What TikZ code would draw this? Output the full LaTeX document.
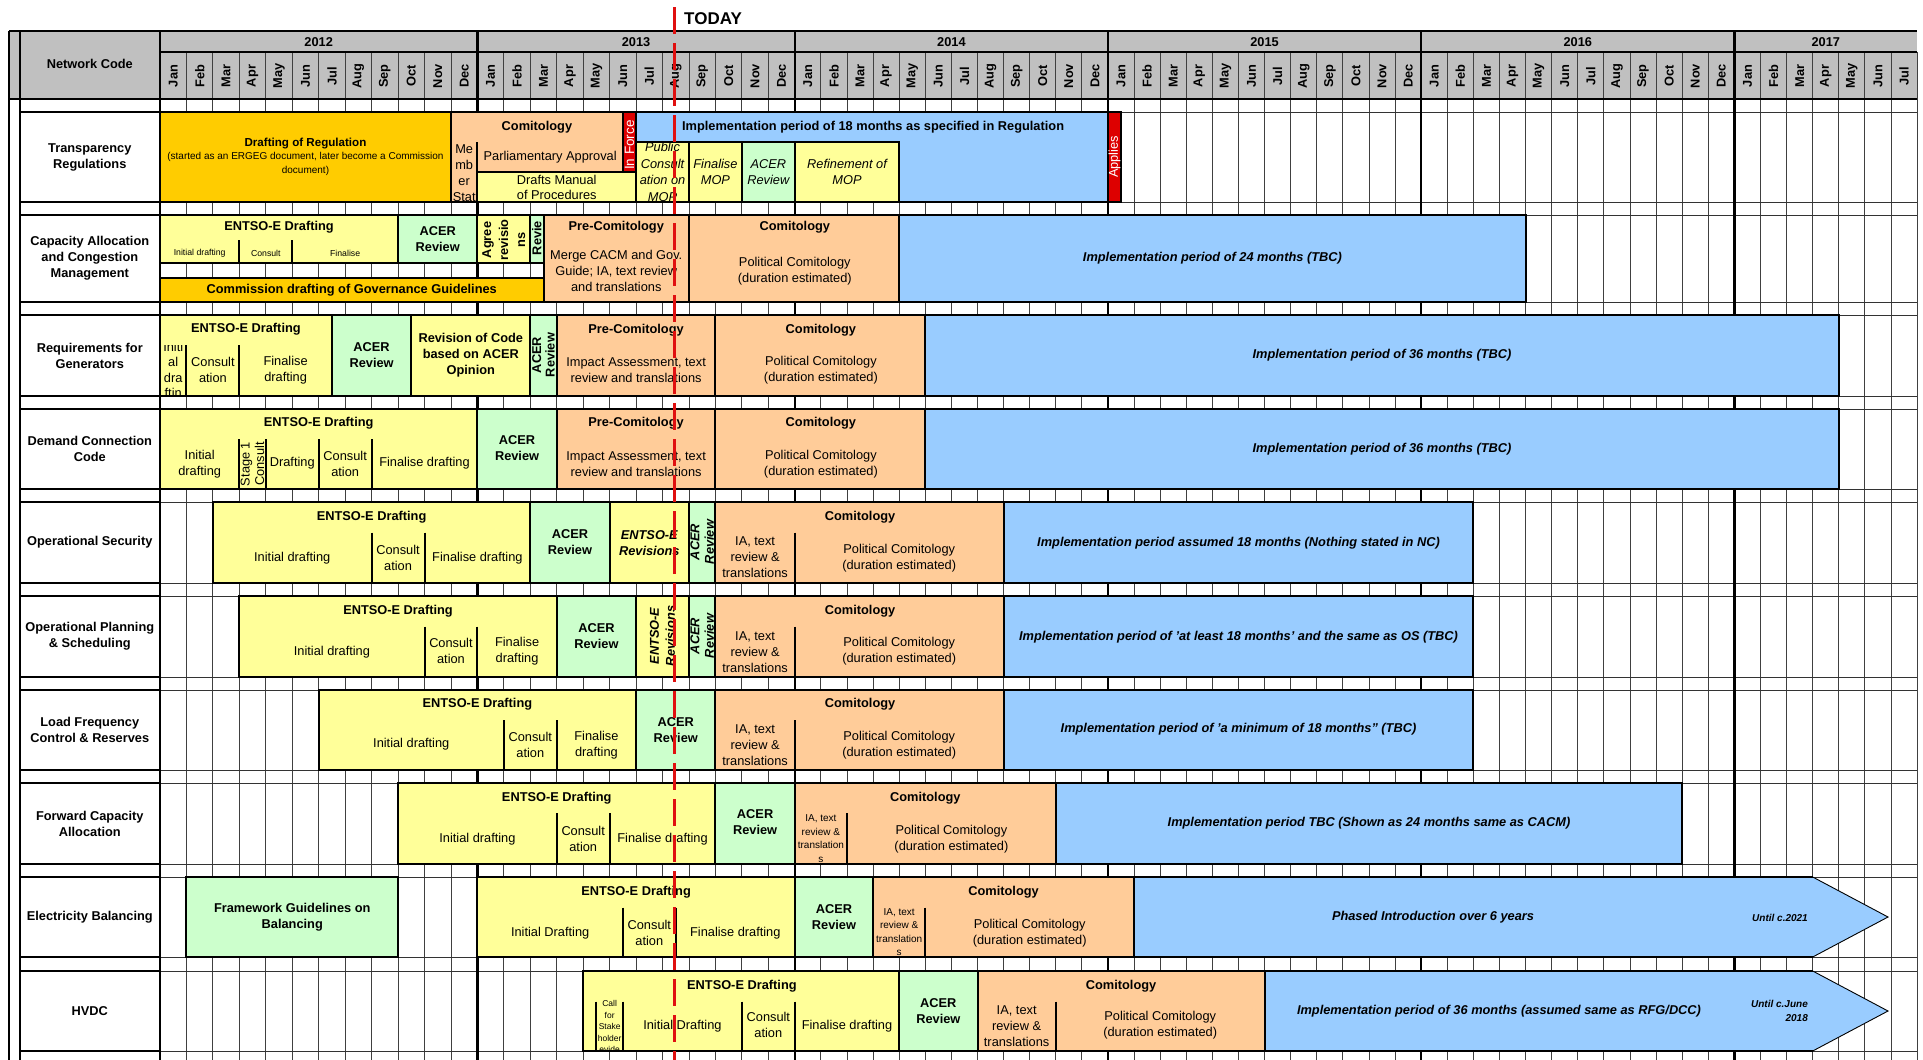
\documentclass[tikz,border=0pt]{standalone}
\usepackage{fontspec}
\setmainfont{Liberation Sans}
\usepackage{tikz}

\definecolor{cHead}{HTML}{C0C0C0}
\definecolor{cGold}{HTML}{FFCC00}
\definecolor{cPeach}{HTML}{FFCC99}
\definecolor{cYel}{HTML}{FFFF99}
\definecolor{cGrn}{HTML}{CCFFCC}
\definecolor{cBlue}{HTML}{99CCFF}
\definecolor{cRed}{HTML}{DD0000}
\definecolor{cToday}{HTML}{E01010}

\begin{document}
\begin{tikzpicture}[x=1pt,y=1pt,yscale=-1,xscale=1,
  declare function={mx(\k)=(\k<=24)*(160+26.45*\k)+(\k>24)*(794.8+26.1*(\k-24));},
  bar/.style={draw=black,line width=2pt},
  yel/.style={bar,fill=cYel},
  grn/.style={bar,fill=cGrn},
  pch/.style={bar,fill=cPeach},
  gld/.style={bar,fill=cGold},
  blu/.style={bar,fill=cBlue},
  rdb/.style={bar,fill=cRed},
  divd/.style={line width=2pt},
  mline/.style={line width=0.9pt,black!75},
  yline/.style={line width=2.4pt},
  rline/.style={line width=0.9pt,black!80},
  lbl/.style={font=\fontsize{12.8}{16}\selectfont,align=center,inner sep=0pt},
  lblb/.style={lbl,font=\fontsize{12.8}{16}\selectfont\bfseries},
  lbli/.style={lbl,font=\fontsize{12.8}{16.6}\selectfont\itshape},
  lblbi/.style={lbl,font=\fontsize{12.8}{16}\selectfont\bfseries\itshape},
  lbls/.style={lbl,font=\fontsize{8.7}{10}\selectfont},
  lblm/.style={lbl,font=\fontsize{10}{13.5}\selectfont},
  rot/.style={rotate=90},
  todayl/.style={draw=cToday,line width=3pt,dash pattern=on 27pt off 9pt},
  ]
\useasboundingbox (0,0) rectangle (1923,1060);

%Header background
\fill[cHead] (9,31) rectangle ({mx(67)},99);

%Month grid
\foreach \k in {1,...,67} \draw[mline] ({mx(\k)},52) -- ({mx(\k)},1060);
\foreach \yy in {112,202,215,302,315,396,409,489,502,583,596,677,690,770,783,864,877,957,971,1051}
  \draw[rline] (160,\yy) -- ({mx(67)},\yy);
\draw[rline] (160,263) -- ({mx(14.5)},263);
\draw[rline] (160,277.7) -- ({mx(14.5)},277.7);
%Year lines
\foreach \k in {12,24,36,48,60} \draw[yline] ({mx(\k)},31) -- ({mx(\k)},1060);

%Header lines and texts
\draw[line width=2.4pt] (9,31) -- ({mx(67)},31);
\draw[line width=1.6pt] (160,52) -- ({mx(67)},52);
\draw[line width=2.4pt] (9,99) -- ({mx(67)},99);
\foreach \yr/\ka/\kb in {2012/0/12,2013/12/24,2014/24/36,2015/36/48,2016/48/60,2017/60/67}
  \node[lblb] (yr\yr) at ({(mx(\ka)+mx(\kb))/2},42) {\yr};
\foreach \yr in {0,...,5}{
  \foreach \mn [count=\i from 0] in {Jan,Feb,Mar,Apr,May,Jun,Jul,Aug,Sep,Oct,Nov,Dec}{
    \pgfmathtruncatemacro{\kk}{12*\yr+\i}
    \ifnum\kk<67
      \node[lblb,rot] (mon\kk) at ({mx(\kk+0.5)},76) {\mn};
    \fi
  }
}

%Left column
\draw[line width=2.2pt] (9,31) -- (9,1060);
\draw[line width=2.2pt] (19.6,31) -- (19.6,1060);
\draw[line width=2.2pt] (160,31) -- (160,1060);
\draw[line width=2.2pt] (19.6,31) rectangle (160,99);
\node[lblb] (nc-head) at (89.8,64) {Network Code};
\foreach \t/\b in {112/202,215/302,315/396,409/489,502/583,596/677,690/770,783/864,877/957,971/1051}
  \draw[line width=2.2pt] (19.6,\t) rectangle (160,\b);
\node[lblb] (nc-tr) at (89.8,157) {Transparency\\Regulations};
\node[lblb] (nc-cacm) at (89.8,258.5) {Capacity Allocation\\and Congestion\\Management};
\node[lblb] (nc-rfg) at (89.8,355.5) {Requirements for\\Generators};
\node[lblb] (nc-dcc) at (89.8,449) {Demand Connection\\Code};
\node[lblb] (nc-os) at (89.8,542.5) {Operational Security};
\node[lblb] (nc-ops) at (89.8,636.5) {Operational Planning\\\& Scheduling};
\node[lblb] (nc-lfc) at (89.8,730) {Load Frequency\\Control \& Reserves};
\node[lblb] (nc-fca) at (89.8,823.5) {Forward Capacity\\Allocation};
\node[lblb] (nc-eb) at (89.8,917) {Electricity Balancing};
\node[lblb] (nc-hv) at (89.8,1011) {HVDC};

%Transparency Regulations
\draw[gld] ({mx(0)},112) rectangle ({mx(11)},202);
\node[lblb,font=\fontsize{11.6}{14}\selectfont\bfseries] (tr-draft) at ({mx(5.5)},144) {Drafting of Regulation};
\node[lblm] (tr-note) at ({mx(5.5)},164) {(started as an ERGEG document, later become a Commission\\document)};
\draw[pch] ({mx(11)},112) rectangle ({mx(17.5)},202);
\node[lblb] (tr-com) at ({mx(14.25)},127) {Comitology};
\node[lbl] (tr-parl) at ({mx(14.75)},157) {Parliamentary Approval};
\node[lbl] (tr-ms) at ({mx(11.5)},173) {Me\\mb\\er\\Stat};
\draw[rdb] ({mx(17.5)},112) rectangle ({mx(18)},172);
\node[lbl,rot,text=white,font=\fontsize{13.5}{16}\selectfont] (tr-force) at ({mx(17.75)},145) {In Force};
\draw[yel] ({mx(12)},172) rectangle ({mx(18)},202);
\node[lbl,font=\fontsize{12.8}{15}\selectfont] (tr-mop) at ({mx(15)},187.5) {Drafts Manual\\of Procedures};
\draw[divd] ({mx(12)},142) -- ({mx(12)},172);
\draw[blu] ({mx(18)},112) rectangle ({mx(36)},202);
\node[lblb] (tr-impl) at ({mx(27)},127) {Implementation period of 18 months as specified in Regulation};
\draw[rdb] ({mx(36)},112) rectangle ({mx(36.5)},202);
\node[lbl,rot,text=white] (tr-app) at ({mx(36.25)},157) {Applies};
\draw[yel] ({mx(18)},142) rectangle ({mx(20)},202);
\node[lbli] (tr-pub) at ({mx(19)},172) {Public\\Consult\\ation on\\MOP};
\draw[yel] ({mx(20)},142) rectangle ({mx(22)},202);
\node[lbli] (tr-fin) at ({mx(21)},172) {Finalise\\MOP};
\draw[grn] ({mx(22)},142) rectangle ({mx(24)},202);
\node[lbli] (tr-acer) at ({mx(23)},172) {ACER\\Review};
\draw[yel] ({mx(24)},142) rectangle ({mx(28)},202);
\node[lbli] (tr-ref) at ({mx(26)},172) {Refinement of\\MOP};

%Capacity Allocation and Congestion Management
\draw[yel] ({mx(0)},215) rectangle ({mx(9)},263);
\node[lblb] (ca-ent) at ({mx(4.5)},227) {ENTSO-E Drafting};
\draw[divd] ({mx(3)},240) -- ({mx(3)},263);
\draw[divd] ({mx(5)},240) -- ({mx(5)},263);
\node[lbls] (ca-init) at ({mx(1.5)},253) {Initial drafting};
\node[lbls] (ca-cons) at ({mx(4)},253) {Consult};
\node[lbls] (ca-fin) at ({mx(7)},253) {Finalise};
\draw[grn] ({mx(9)},215) rectangle ({mx(12)},263);
\node[lblb] (ca-acer) at ({mx(10.5)},239) {ACER\\Review};
\draw[yel] ({mx(12)},215) rectangle ({mx(14)},263);
\node[lblb,rot,font=\fontsize{12.8}{17}\selectfont\bfseries] (ca-agree) at ({mx(13)},240) {Agree\\revisio\\ns};
\draw[grn] ({mx(14)},215) rectangle ({mx(14.5)},263);
\node[lblb,rot] (ca-rev) at ({mx(14.25)},238) {Revie};
\draw[gld] ({mx(0)},277.7) rectangle ({mx(14.5)},302);
\node[lblb] (ca-gov) at ({mx(7.25)},290) {Commission drafting of Governance Guidelines};
\draw[pch] ({mx(14.5)},215) rectangle ({mx(20)},302);
\node[lblb] (ca-pre) at ({mx(17.25)},227) {Pre-Comitology};
\node[lbl] (ca-merge) at ({mx(17.25)},270.7) {Merge CACM and Gov.\\Guide; IA, text review\\and translations};
\draw[pch] ({mx(20)},215) rectangle ({mx(28)},302);
\node[lblb] (ca-com) at ({mx(24)},227) {Comitology};
\node[lbl] (ca-pol) at ({mx(24)},270.7) {Political Comitology\\(duration estimated)};
\draw[blu] ({mx(28)},215) rectangle ({mx(52)},302);
\node[lblbi] (ca-impl) at ({mx(40)},258.5) {Implementation period of 24 months (TBC)};

%Requirements for Generators
\draw[yel] ({mx(0)},315) rectangle ({mx(6.5)},396);
\node[lblb] (rg-ent) at ({mx(3.25)},329.3) {ENTSO-E Drafting};
\draw[divd] ({mx(1)},345) -- ({mx(1)},396);
\draw[divd] ({mx(3)},345) -- ({mx(3)},396);
\begin{scope}
\clip ({mx(0)},345) rectangle ({mx(1)},395);
\node[lbl,font=\fontsize{12.8}{15.5}\selectfont] (rg-init) at ({mx(0.5)},370) {Initi\\al\\dra\\ftin};
\end{scope}
\node[lbl] (rg-cons) at ({mx(2)},370) {Consult\\ation};
\node[lbl] (rg-fin) at ({mx(4.75)},370) {Finalise\\drafting};
\draw[grn] ({mx(6.5)},315) rectangle ({mx(9.5)},396);
\node[lblb] (rg-acer) at ({mx(8)},355.5) {ACER\\Review};
\draw[yel] ({mx(9.5)},315) rectangle ({mx(14)},396);
\node[lblb] (rg-revc) at ({mx(11.75)},355.5) {Revision of Code\\based on ACER\\Opinion};
\draw[grn] ({mx(14)},315) rectangle ({mx(15)},396);
\node[lblb,rot,font=\fontsize{12.8}{13.5}\selectfont\bfseries] (rg-acer2) at ({mx(14.5)},355) {ACER\\Review};
\draw[pch] ({mx(15)},315) rectangle ({mx(21)},396);
\node[lblb] (rg-pre) at ({mx(18)},330) {Pre-Comitology};
\node[lbl] (rg-ia) at ({mx(18)},370) {Impact Assessment, text\\review and translations};
\draw[pch] ({mx(21)},315) rectangle ({mx(29)},396);
\node[lblb] (rg-com) at ({mx(25)},330) {Comitology};
\node[lbl] (rg-pol) at ({mx(25)},370) {Political Comitology\\(duration estimated)};
\draw[blu] ({mx(29)},315) rectangle ({mx(64)},396);
\node[lblbi] (rg-impl) at ({mx(46.5)},355.5) {Implementation period of 36 months (TBC)};

%Demand Connection Code
\draw[yel] ({mx(0)},409) rectangle ({mx(12)},489);
\node[lblb] (dc-ent) at ({mx(6)},423) {ENTSO-E Drafting};
\foreach \k in {3,4,6,8} \draw[divd] ({mx(\k)},439) -- ({mx(\k)},489);
\node[lbl] (dc-init) at ({mx(1.5)},464) {Initial\\drafting};
\node[lbl,rot,font=\fontsize{12.8}{14.5}\selectfont] (dc-st) at ({mx(3.5)},464) {Stage 1\\Consult};
\node[lbl] (dc-dr) at ({mx(5)},463) {Drafting};
\node[lbl] (dc-cons) at ({mx(7)},464) {Consult\\ation};
\node[lbl] (dc-fin) at ({mx(10)},463) {Finalise drafting};
\draw[grn] ({mx(12)},409) rectangle ({mx(15)},489);
\node[lblb] (dc-acer) at ({mx(13.5)},448) {ACER\\Review};
\draw[pch] ({mx(15)},409) rectangle ({mx(21)},489);
\node[lblb] (dc-pre) at ({mx(18)},423) {Pre-Comitology};
\node[lbl] (dc-ia) at ({mx(18)},464) {Impact Assessment, text\\review and translations};
\draw[pch] ({mx(21)},409) rectangle ({mx(29)},489);
\node[lblb] (dc-com) at ({mx(25)},423) {Comitology};
\node[lbl] (dc-pol) at ({mx(25)},464) {Political Comitology\\(duration estimated)};
\draw[blu] ({mx(29)},409) rectangle ({mx(64)},489);
\node[lblbi] (dc-impl) at ({mx(46.5)},449) {Implementation period of 36 months (TBC)};

%Operational Security
\draw[yel] ({mx(2)},502) rectangle ({mx(14)},583);
\node[lblb] (os-ent) at ({mx(8)},517) {ENTSO-E Drafting};
\foreach \k in {8,10} \draw[divd] ({mx(\k)},532.7) -- ({mx(\k)},583);
\node[lbl] (os-init) at ({mx(5)},557.7) {Initial drafting};
\node[lbl] (os-cons) at ({mx(9)},558) {Consult\\ation};
\node[lbl] (os-fin) at ({mx(12)},557.7) {Finalise drafting};
\draw[grn] ({mx(14)},502) rectangle ({mx(17)},583);
\node[lblb] (os-acer) at ({mx(15.5)},542) {ACER\\Review};
\draw[yel] ({mx(17)},502) rectangle ({mx(20)},583);
\node[lblbi] (os-rev) at ({mx(18.5)},543) {ENTSO-E\\Revisions};
\draw[grn] ({mx(20)},502) rectangle ({mx(21)},583);
\node[lblbi,rot,font=\fontsize{12.8}{14.5}\selectfont\bfseries\itshape] (os-acer2) at ({mx(20.5)},542) {ACER\\Review};
\draw[pch] ({mx(21)},502) rectangle ({mx(32)},583);
\node[lblb] (os-com) at ({mx(26.5)},517) {Comitology};
\draw[divd] ({mx(24)},532.7) -- ({mx(24)},583);
\node[lbl] (os-ia) at ({mx(22.5)},557) {IA, text\\review \&\\translations};
\node[lbl] (os-pol) at ({mx(28)},558) {Political Comitology\\(duration estimated)};
\draw[blu] ({mx(32)},502) rectangle ({mx(50)},583);
\node[lblbi] (os-impl) at ({mx(41)},542.7) {Implementation period assumed 18 months (Nothing stated in NC)};

%Operational Planning & Scheduling
\draw[yel] ({mx(3)},596) rectangle ({mx(15)},677);
\node[lblb] (op-ent) at ({mx(9)},611) {ENTSO-E Drafting};
\foreach \k in {10,12} \draw[divd] ({mx(\k)},626.7) -- ({mx(\k)},677);
\node[lbl] (op-init) at ({mx(6.5)},651.7) {Initial drafting};
\node[lbl] (op-cons) at ({mx(11)},651) {Consult\\ation};
\node[lbl] (op-fin) at ({mx(13.5)},651) {Finalise\\drafting};
\draw[grn] ({mx(15)},596) rectangle ({mx(18)},677);
\node[lblb] (op-acer) at ({mx(16.5)},636) {ACER\\Review};
\draw[yel] ({mx(18)},596) rectangle ({mx(20)},677);
\node[lblbi,rot] (op-rev) at ({mx(19)},636) {ENTSO-E\\Revisions};
\draw[grn] ({mx(20)},596) rectangle ({mx(21)},677);
\node[lblbi,rot,font=\fontsize{12.8}{14.5}\selectfont\bfseries\itshape] (op-acer2) at ({mx(20.5)},636) {ACER\\Review};
\draw[pch] ({mx(21)},596) rectangle ({mx(32)},677);
\node[lblb] (op-com) at ({mx(26.5)},611) {Comitology};
\draw[divd] ({mx(24)},626.7) -- ({mx(24)},677);
\node[lbl] (op-ia) at ({mx(22.5)},651.7) {IA, text\\review \&\\translations};
\node[lbl] (op-pol) at ({mx(28)},651) {Political Comitology\\(duration estimated)};
\draw[blu] ({mx(32)},596) rectangle ({mx(50)},677);
\node[lblbi] (op-impl) at ({mx(41)},636.7) {Implementation period of 'at least 18 months' and the same as OS (TBC)};

%Load Frequency Control & Reserves
\draw[yel] ({mx(6)},690) rectangle ({mx(18)},770);
\node[lblb] (lf-ent) at ({mx(12)},704) {ENTSO-E Drafting};
\foreach \k in {13,15} \draw[divd] ({mx(\k)},720) -- ({mx(\k)},770);
\node[lbl] (lf-init) at ({mx(9.5)},744) {Initial drafting};
\node[lbl] (lf-cons) at ({mx(14)},745) {Consult\\ation};
\node[lbl] (lf-fin) at ({mx(16.5)},745) {Finalise\\drafting};
\draw[grn] ({mx(18)},690) rectangle ({mx(21)},770);
\node[lblb] (lf-acer) at ({mx(19.5)},730) {ACER\\Review};
\draw[pch] ({mx(21)},690) rectangle ({mx(32)},770);
\node[lblb] (lf-com) at ({mx(26.5)},704) {Comitology};
\draw[divd] ({mx(24)},720) -- ({mx(24)},770);
\node[lbl] (lf-ia) at ({mx(22.5)},745) {IA, text\\review \&\\translations};
\node[lbl] (lf-pol) at ({mx(28)},745) {Political Comitology\\(duration estimated)};
\draw[blu] ({mx(32)},690) rectangle ({mx(50)},770);
\node[lblbi] (lf-impl) at ({mx(41)},729) {Implementation period of 'a minimum of 18 months" (TBC)};

%Forward Capacity Allocation
\draw[yel] ({mx(9)},783) rectangle ({mx(21)},864);
\node[lblb] (fc-ent) at ({mx(15)},798) {ENTSO-E Drafting};
\foreach \k in {15,17} \draw[divd] ({mx(\k)},813) -- ({mx(\k)},864);
\node[lbl] (fc-init) at ({mx(12)},838.7) {Initial drafting};
\node[lbl] (fc-cons) at ({mx(16)},839) {Consult\\ation};
\node[lbl] (fc-fin) at ({mx(19)},838.7) {Finalise drafting};
\draw[grn] ({mx(21)},783) rectangle ({mx(24)},864);
\node[lblb] (fc-acer) at ({mx(22.5)},822.5) {ACER\\Review};
\draw[pch] ({mx(24)},783) rectangle ({mx(34)},864);
\node[lblb] (fc-com) at ({mx(29)},798) {Comitology};
\draw[divd] ({mx(26)},813) -- ({mx(26)},864);
\node[lblm] (fc-ia) at ({mx(25)},838.7) {IA, text\\review \&\\translation\\s};
\node[lbl] (fc-pol) at ({mx(30)},839) {Political Comitology\\(duration estimated)};
\draw[blu] ({mx(34)},783) rectangle ({mx(58)},864);
\node[lblbi] (fc-impl) at ({mx(46)},823) {Implementation period TBC (Shown as 24 months same as CACM)};

%Electricity Balancing
\draw[grn] ({mx(1)},877) rectangle ({mx(9)},957);
\node[lblb] (eb-fw) at ({mx(5)},917) {Framework Guidelines on\\Balancing};
\draw[yel] ({mx(12)},877) rectangle ({mx(24)},957);
\node[lblb] (eb-ent) at ({mx(18)},892) {ENTSO-E Drafting};
\foreach \k in {17.5,19.5} \draw[divd] ({mx(\k)},907.7) -- ({mx(\k)},957);
\node[lbl] (eb-init) at ({mx(14.75)},932.7) {Initial Drafting};
\node[lbl] (eb-cons) at ({mx(18.5)},933) {Consult\\ation};
\node[lbl] (eb-fin) at ({mx(21.75)},932.7) {Finalise drafting};
\draw[grn] ({mx(24)},877) rectangle ({mx(27)},957);
\node[lblb] (eb-acer) at ({mx(25.5)},917) {ACER\\Review};
\draw[pch] ({mx(27)},877) rectangle ({mx(37)},957);
\node[lblb] (eb-com) at ({mx(32)},892) {Comitology};
\draw[divd] ({mx(29)},907.7) -- ({mx(29)},957);
\node[lblm] (eb-ia) at ({mx(28)},932) {IA, text\\review \&\\translation\\s};
\node[lbl] (eb-pol) at ({mx(33)},933) {Political Comitology\\(duration estimated)};
\fill[cBlue] ({mx(37)},877) -- ({mx(63)},877) -- (1888,917) -- ({mx(63)},957) -- ({mx(37)},957) -- cycle;
\draw[bar] ({mx(63)},877) -- ({mx(37)},877) -- ({mx(37)},957) -- ({mx(63)},957);
\draw[line width=0.9pt] ({mx(63)},877) -- (1888,917) -- ({mx(63)},957);
\node[lblbi] (eb-impl) at (1433,917) {Phased Introduction over 6 years};
\node[lblbi,font=\fontsize{10}{13.7}\selectfont\bfseries\itshape,anchor=east] (eb-until) at (1808,918) {Until c.2021};

%HVDC
\draw[yel] ({mx(16)},971) rectangle ({mx(28)},1051);
\node[lblb] (hv-ent) at ({mx(22)},986) {ENTSO-E Drafting};
\foreach \k in {16.5,17.5,22,24} \draw[divd] ({mx(\k)},1001.7) -- ({mx(\k)},1051);
\begin{scope}
\clip ({mx(16.5)},995) rectangle ({mx(17.5)},1050);
\node[lbl,font=\fontsize{8.5}{11.5}\selectfont] (hv-call) at ({mx(17)},1026.5) {Call\\for\\Stake\\holder\\evide};
\end{scope}
\node[lbl] (hv-init) at ({mx(19.75)},1025.7) {Initial Drafting};
\node[lbl] (hv-cons) at ({mx(23)},1025) {Consult\\ation};
\node[lbl] (hv-fin) at ({mx(26)},1025.7) {Finalise drafting};
\draw[grn] ({mx(28)},971) rectangle ({mx(31)},1051);
\node[lblb] (hv-acer) at ({mx(29.5)},1011) {ACER\\Review};
\draw[pch] ({mx(31)},971) rectangle ({mx(42)},1051);
\node[lblb] (hv-com) at ({mx(36.5)},986) {Comitology};
\draw[divd] ({mx(34)},1001.7) -- ({mx(34)},1051);
\node[lbl] (hv-ia) at ({mx(32.5)},1025.7) {IA, text\\review \&\\translations};
\node[lbl] (hv-pol) at ({mx(38)},1025) {Political Comitology\\(duration estimated)};
\fill[cBlue] ({mx(42)},971) -- ({mx(63)},971) -- (1888,1011) -- ({mx(63)},1051) -- ({mx(42)},1051) -- cycle;
\draw[bar] ({mx(63)},971) -- ({mx(42)},971) -- ({mx(42)},1051) -- ({mx(63)},1051);
\draw[line width=0.9pt] ({mx(63)},971) -- (1888,1011) -- ({mx(63)},1051);
\node[lblbi] (hv-impl) at (1499,1011) {Implementation period of 36 months (assumed same as RFG/DCC)};
\node[lblbi,font=\fontsize{10}{13.7}\selectfont\bfseries\itshape,anchor=east,align=right] (hv-until) at (1808,1011) {Until c.June\\2018};

%Today marker
\coordinate (td-top) at (674,7);
\coordinate (td-bot) at (674,1060);
\draw[todayl] (td-top) -- (td-bot);
\node[font=\fontsize{17}{20}\selectfont\bfseries,anchor=west,inner sep=0pt] (today) at (684,19) {TODAY};

\end{tikzpicture}
\end{document}
